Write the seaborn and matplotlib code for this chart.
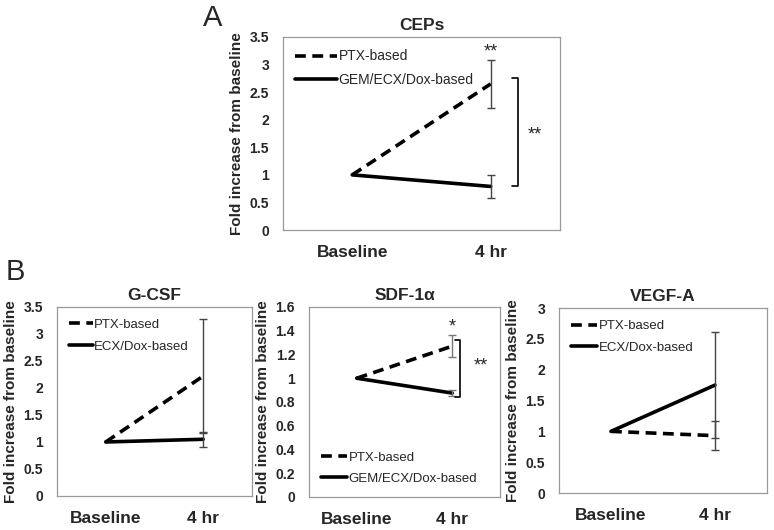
import numpy as np
import pandas as pd
import matplotlib
matplotlib.use("Agg")
import matplotlib.pyplot as plt
import seaborn as sns
from matplotlib.lines import Line2D
from matplotlib.ticker import FuncFormatter

sns.set_style("white")
plt.rcParams['font.family'] = ['Liberation Sans', 'DejaVu Sans']

timepoints = ["Baseline", "4 hr"]

# CEPs
ceps_ptx = [1.0, 2.65]
ceps_ptx_err = [0.0, 0.44]
ceps_gem = [1.0, 0.79]
ceps_gem_err = [0.0, 0.21]

# G-CSF
gcsf_ptx = [1.0, 2.22]
gcsf_ptx_err = [0.0, 1.05]
gcsf_ecx = [1.0, 1.05]
gcsf_ecx_err = [0.0, 0.14]

# SDF-1a
sdf_ptx = [1.0, 1.27]
sdf_ptx_err = [0.0, 0.095]
sdf_gem = [1.0, 0.875]
sdf_gem_err = [0.0, 0.025]

# VEGF-A
vegf_ptx = [1.0, 0.93]
vegf_ptx_err = [0.0, 0.23]
vegf_ecx = [1.0, 1.75]
vegf_ecx_err = [0.0, 0.86]

fig = plt.figure(figsize=(7.74, 5.30), dpi=100)

def panel(rect, title, ptx, ptx_err, other, other_err, other_name, ymax, ystep,
          legend_loc, err_color="#444444", handlelength=2.2, legend_size=9.5):
    ax = fig.add_axes(rect)
    df = pd.DataFrame({
        'x': [0, 1, 0, 1],
        'y': list(ptx) + list(other),
        'group': ['PTX-based'] * 2 + [other_name] * 2,
    })
    sns.lineplot(data=df, x='x', y='y', hue='group', style='group',
                 palette={'PTX-based': 'black', other_name: 'black'},
                 dashes={'PTX-based': (3, 1.8), other_name: ''},
                 linewidth=2.6, legend=False, ax=ax)
    ax.errorbar([1], [ptx[1]], yerr=[ptx_err[1]], fmt='none', ecolor=err_color,
                elinewidth=1.0, capsize=3, capthick=1.0)
    ax.errorbar([1], [other[1]], yerr=[other_err[1]], fmt='none', ecolor=err_color,
                elinewidth=1.0, capsize=3, capthick=1.0)
    ax.set_xlim(-0.5, 1.5)
    ax.set_ylim(0, ymax)
    ax.set_yticks(np.arange(0, ymax + ystep / 2, ystep))
    ax.yaxis.set_major_formatter(FuncFormatter(lambda v, p: '%g' % round(v, 2)))
    ax.set_xticks([-0.5, 0.5, 1.5])
    ax.set_xticklabels([])
    ax.set_xticks([0, 1], minor=True)
    ax.set_xticklabels(timepoints, minor=True, fontsize=12.5, fontweight='bold')
    ax.tick_params(axis='x', which='minor', length=0, pad=11)
    ax.tick_params(axis='x', which='major', length=4, width=0.8, color='#888888', direction='out')
    ax.tick_params(axis='y', length=4, width=0.8, color='#888888', direction='out',
                   labelsize=10, pad=6)
    for lab in ax.get_yticklabels():
        lab.set_fontweight('bold')
    for s in ax.spines.values():
        s.set_color('#999999')
        s.set_linewidth(0.9)
    ax.set_xlabel('')
    ax.set_ylabel('Fold increase from baseline', fontsize=11, fontweight='bold', labelpad=4)
    ax.set_title(title, fontsize=12.5, fontweight='bold', pad=5)
    handles = [Line2D([], [], color='black', lw=2.6, dashes=(3, 1.8)),
               Line2D([], [], color='black', lw=2.6)]
    ax.legend(handles, ['PTX-based', other_name], loc=legend_loc, frameon=False,
              fontsize=legend_size, handlelength=handlelength, handletextpad=0.1,
              labelspacing=0.7)
    return ax

axA = panel([0.3656, 0.566, 0.3579, 0.3642], 'CEPs', ceps_ptx, ceps_ptx_err,
            ceps_gem, ceps_gem_err, 'GEM/ECX/Dox-based', 3.5, 0.5, 'upper left',
            handlelength=3.0, legend_size=10)
axA.text(1.0, 3.22, '**', ha='center', va='center', fontsize=13)
axA.plot([1.15, 1.2, 1.2, 1.15], [2.75, 2.75, 0.8, 0.8], color='black', lw=1.2)
axA.text(1.32, 1.72, '**', ha='center', va='center', fontsize=13)

axG = panel([0.0736, 0.0642, 0.2519, 0.3566], 'G-CSF', gcsf_ptx, gcsf_ptx_err,
            gcsf_ecx, gcsf_ecx_err, 'ECX/Dox-based', 3.5, 0.5, 'upper left',
            handlelength=1.8)

axS = panel([0.3992, 0.0623, 0.2468, 0.3585], 'SDF-1\u03b1', sdf_ptx, sdf_ptx_err,
            sdf_gem, sdf_gem_err, 'GEM/ECX/Dox-based', 1.6, 0.2, 'lower left',
            err_color='#777777', handlelength=2.0)
axS.text(1.0, 1.43, '*', ha='center', va='center', fontsize=13)
axS.plot([1.03, 1.08, 1.08, 1.03], [1.32, 1.32, 0.845, 0.845], color='black', lw=1.2)
axS.text(1.3, 1.1, '**', ha='center', va='center', fontsize=13)

axV = panel([0.7222, 0.0698, 0.2687, 0.349], 'VEGF-A', vegf_ptx, vegf_ptx_err,
            vegf_ecx, vegf_ecx_err, 'ECX/Dox-based', 3.0, 0.5, 'upper left',
            handlelength=2.0)

fig.text(213 / 774, 1 - 18 / 530, 'A', fontsize=21, ha='center', va='center')
fig.text(15 / 774, 1 - 272 / 530, 'B', fontsize=21, ha='center', va='center')

fig.savefig('out.png', dpi=100)
